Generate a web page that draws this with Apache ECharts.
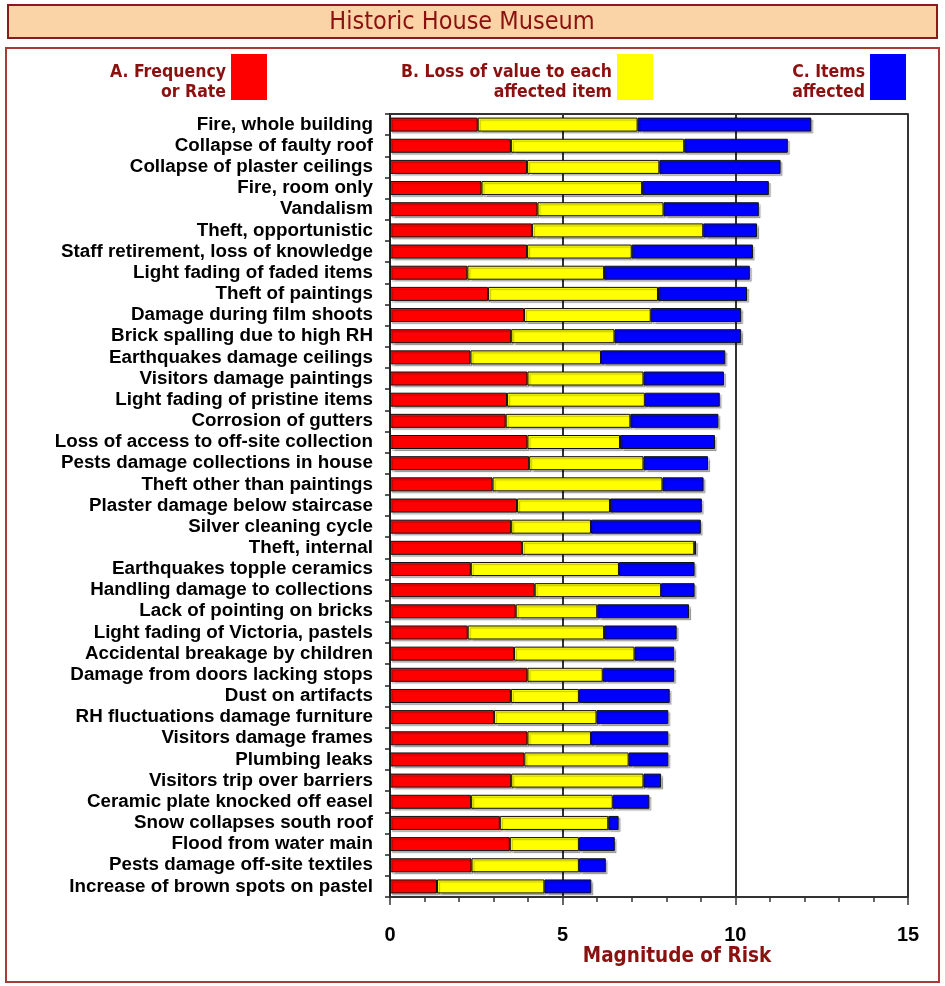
<!DOCTYPE html>
<html><head><meta charset="utf-8">
<script src="https://cdn.jsdelivr.net/npm/echarts@6/dist/echarts.min.js"></script>
<style>html,body{margin:0;padding:0;background:#fff}#c{width:945px;height:986px}</style>
</head><body><div id="c"></div>
<script>
const categories = ["Fire, whole building","Collapse of faulty roof","Collapse of plaster ceilings","Fire, room only","Vandalism","Theft, opportunistic","Staff retirement, loss of knowledge","Light fading of faded items","Theft of paintings","Damage during film shoots","Brick spalling due to high RH","Earthquakes damage ceilings","Visitors damage paintings","Light fading of pristine items","Corrosion of gutters","Loss of access to off-site collection","Pests damage collections in house","Theft other than paintings","Plaster damage below staircase","Silver cleaning cycle","Theft, internal","Earthquakes topple ceramics","Handling damage to collections","Lack of pointing on bricks","Light fading of Victoria, pastels","Accidental breakage by children","Damage from doors lacking stops","Dust on artifacts","RH fluctuations damage furniture","Visitors damage frames","Plumbing leaks","Visitors trip over barriers","Ceramic plate knocked off easel","Snow collapses south roof","Flood from water main","Pests damage off-site textiles","Increase of brown spots on pastel"];
const frequency = [2.54,3.5,3.97,2.65,4.27,4.11,3.97,2.24,2.84,3.88,3.51,2.33,3.98,3.39,3.35,3.98,4.03,2.97,3.68,3.51,3.82,2.34,4.19,3.64,2.25,3.59,3.98,3.5,3.01,3.98,3.89,3.51,2.35,3.18,3.47,2.36,1.36];
const lossOfValue = [4.63,5.02,3.83,4.65,3.65,4.96,3.03,3.96,4.92,3.67,2.99,3.78,3.36,3.99,3.61,2.68,3.31,4.92,2.69,2.31,4.99,4.29,3.66,2.36,3.95,3.49,2.18,1.97,2.97,1.84,3.02,3.83,4.1,3.14,2.0,3.11,3.11];
const itemsAffected = [5.03,3.0,3.51,3.67,2.76,1.56,3.51,4.22,2.58,2.62,3.67,3.6,2.33,2.17,2.55,2.75,1.87,1.19,2.66,3.18,0.05,2.19,0.97,2.66,2.1,1.15,2.07,2.63,2.08,2.24,1.15,0.51,1.06,0.3,1.04,0.78,1.36];
const seriesNames = ["A. Frequency\nor Rate","B. Loss of value to each\naffected item","C. Items\naffected"];
const xTicks = [0,5,10,15];

const DARKRED = '#8b1010';
const chart = echarts.init(document.getElementById('c'), null, {renderer:'canvas'});
const barStyle = (c) => ({color:c, borderColor:'#111', borderWidth:1, shadowColor:'rgba(0,0,0,0.25)', shadowOffsetX:2, shadowOffsetY:2, shadowBlur:1});
const legendBase = {orient:'horizontal', top:54, padding:0, align:'right', itemWidth:36, itemHeight:46, icon:'rect', itemGap:0,
  itemStyle:{borderWidth:0, shadowBlur:0, shadowOffsetX:0, shadowOffsetY:0},
  formatter:(name)=> '{s|}\n' + name.split('\n').map(l=>'{t|'+l+'}').join('\n'),
  textStyle:{color:DARKRED, fontFamily:'DejaVu Sans Condensed', fontWeight:'bold', fontSize:17.5,
    rich:{s:{lineHeight:10, fontSize:1},
          t:{color:DARKRED, fontFamily:'DejaVu Sans Condensed', fontWeight:'bold', fontSize:17.5, lineHeight:20}}}};
chart.setOption({
  animation:false,
  backgroundColor:'#fff',
  graphic:[
    {type:'rect', shape:{x:8,y:5,width:929,height:33}, style:{fill:'#fad3a6', stroke:'#8b1a1a', lineWidth:2}, z:-10},
    {type:'text', style:{x:462,y:22,text:'Historic House Museum', fill:DARKRED, font:'25px "DejaVu Sans Condensed"', textAlign:'center', textVerticalAlign:'middle'}},
    {type:'rect', shape:{x:6,y:48,width:933,height:934}, style:{fill:'#fff', stroke:'#a83a3a', lineWidth:2}, z:-10},
    {type:'text', style:{x:677,y:957,text:'Magnitude of Risk', fill:DARKRED, font:'bold 20.5px "DejaVu Sans Condensed"', textAlign:'center', textVerticalAlign:'middle'}}
  ],
  legend:[
    Object.assign({}, legendBase, {right:678, data:[seriesNames[0]]}),
    Object.assign({}, legendBase, {right:292, data:[seriesNames[1]]}),
    Object.assign({}, legendBase, {right:39, data:[seriesNames[2]]})
  ],
  grid:{left:390, top:114, right:37, bottom:89, containLabel:false},
  xAxis:[{
    type:'value', min:0, max:15, interval:5, position:'bottom',
    axisLine:{show:true, lineStyle:{color:'#333', width:2}},
    axisTick:{show:true, length:8, lineStyle:{color:'#333', width:1.5}},
    minorTick:{show:true, splitNumber:5, length:5, lineStyle:{color:'#333', width:1.5}},
    splitLine:{show:true, lineStyle:{color:'#333', width:2}},
    axisLabel:{margin:28, color:'#000', fontFamily:'Liberation Sans', fontWeight:'bold', fontSize:20,
      formatter:(v)=> xTicks.includes(v) ? String(v) : ''}
  },{
    type:'value', min:0, max:15, interval:5, position:'top',
    axisLine:{show:true, lineStyle:{color:'#333', width:2}},
    axisTick:{show:false}, axisLabel:{show:false}, splitLine:{show:false}
  }],
  yAxis:{
    type:'category', data:categories, inverse:true,
    axisLine:{show:true, lineStyle:{color:'#222', width:2}},
    axisTick:{show:true, length:5, lineStyle:{color:'#222', width:1.5}},
    axisLabel:{interval:0, margin:17, color:'#000', fontFamily:'Liberation Sans', fontWeight:'bold', fontSize:18.8}
  },
  series:[
    {name:seriesNames[0], type:'bar', stack:'risk', data:frequency, barWidth:14, itemStyle:barStyle('#ff0000')},
    {name:seriesNames[1], type:'bar', stack:'risk', data:lossOfValue, barWidth:14, itemStyle:barStyle('#ffff00')},
    {name:seriesNames[2], type:'bar', stack:'risk', data:itemsAffected, barWidth:14, itemStyle:barStyle('#0000ff')}
  ]
});
</script></body></html>
